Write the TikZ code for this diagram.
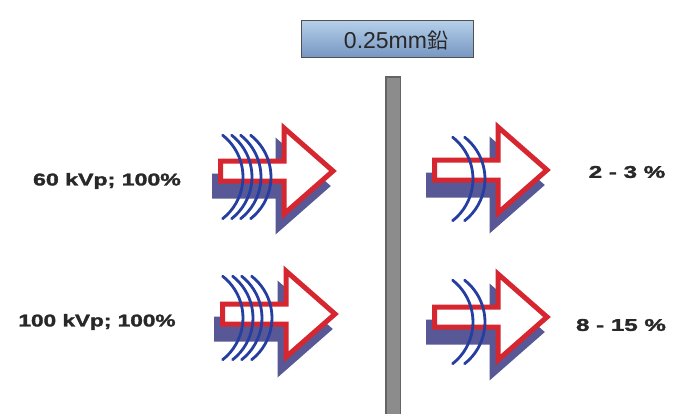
\documentclass[tikz,border=0pt]{standalone}
\usepackage{fontspec}
\setmainfont{Liberation Sans}
\newfontfamily\cjkfont{Noto Sans CJK JP}
\newfontfamily\heavyfont[FakeBold=1.6]{Liberation Sans Bold}
\definecolor{arrred}{RGB}{214,38,48}
\definecolor{shadowblue}{RGB}{88,88,150}
\definecolor{waveblue}{RGB}{38,62,160}
\definecolor{bargray}{RGB}{140,140,140}
\definecolor{bardark}{RGB}{100,100,100}
\definecolor{boxtop}{RGB}{182,208,234}
\definecolor{boxbot}{RGB}{118,150,194}
\definecolor{boxline}{RGB}{80,80,80}
\definecolor{txtdark}{RGB}{40,40,40}
\tikzset{
  arrowshape/.style={line width=5pt, line join=miter},
  wave/.style={draw=waveblue, line width=2.8pt, line cap=round},
  lbl/.style={font=\heavyfont\fontsize{17}{20}\selectfont, text=txtdark, inner sep=0pt},
}
\newcommand\xarrowshape{(2.5,-10) -- (66,-10) -- (66,-43) -- (115,0) -- (66,43) -- (66,10) -- (2.5,10) -- cycle}
\newcommand\drawxarrow[2]{%
  \begin{scope}[shift={(#1,#2)}]
    \filldraw[arrowshape, fill=shadowblue, draw=shadowblue, shift={(-6,15)}] \xarrowshape;
    \filldraw[arrowshape, fill=white, draw=arrred] \xarrowshape;
  \end{scope}}
\newcommand\drawwave[3]{%
  \draw[wave] ({#1-20.4},{#2-41.8}) arc[start angle=-52, end angle=52, radius=53];}
\begin{document}
\begin{tikzpicture}[x=1pt,y=-1pt]
  \useasboundingbox (0,0) rectangle (675,413);
  \fill[white] (0,0) rectangle (675,413);
  % lead plate
  \filldraw[fill=bargray, draw=bardark, line width=1.5pt] (385.75,77) rectangle (400.25,415);
  % label box
  \node[draw=boxline, line width=1.8pt, top color=boxtop, bottom color=boxbot,
        minimum width=172pt, minimum height=37pt, inner sep=0pt] (box) at (387.5,39) {};
  \node[inner sep=0pt, text=txtdark, font=\fontsize{23}{26}\selectfont] (lead) at (396,41)
     {0.25mm{\cjkfont\fontsize{21}{24}\selectfont 鉛}};
  % arrows
  \drawxarrow{218}{171}
  \drawxarrow{220}{314}
  \drawxarrow{432}{170}
  \drawxarrow{432}{317}
  % waves
  \foreach \bx in {243,252,261,271} {\drawwave{\bx}{177}{}}
  \foreach \bx in {243,253,262,272} {\drawwave{\bx}{318}{}}
  \foreach \bx in {473,485} {\drawwave{\bx}{179}{}}
  \foreach \bx in {473,485} {\drawwave{\bx}{322}{}}
  % labels
  \node[lbl] (l60) at (107,181) {\scalebox{1.36}[1]{60 kVp; 100\%}};
  \node[lbl] (l100) at (97,322) {\scalebox{1.33}[1]{100 kVp; 100\%}};
  \node[lbl] (r23) at (627,172) {\scalebox{1.42}[1]{2 - 3 \%}};
  \node[lbl] (r815) at (621,325) {\scalebox{1.42}[1]{8 - 15 \%}};
\end{tikzpicture}
\end{document}
